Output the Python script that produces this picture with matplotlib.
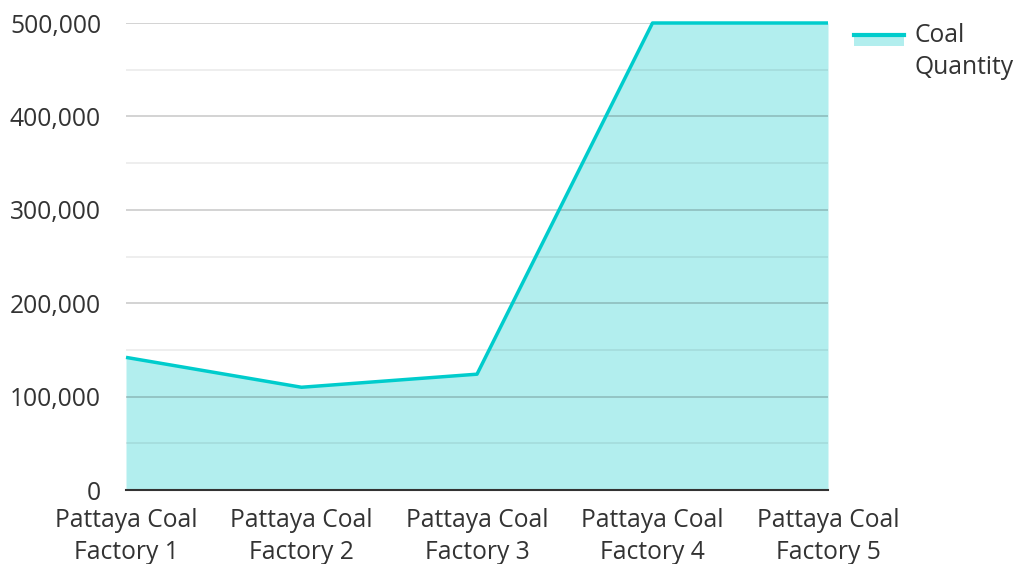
import matplotlib
matplotlib.use('Agg')
import matplotlib.pyplot as plt
from matplotlib.patches import Rectangle
from matplotlib.lines import Line2D
from matplotlib.legend_handler import HandlerBase
from matplotlib.ticker import FuncFormatter, MultipleLocator

plt.rcParams['font.family'] = ['Open Sans', 'DejaVu Sans']

factories = ['Pattaya Coal\nFactory 1', 'Pattaya Coal\nFactory 2', 'Pattaya Coal\nFactory 3',
             'Pattaya Coal\nFactory 4', 'Pattaya Coal\nFactory 5']
coal_quantity = [142000, 110000, 124000, 500000, 500000]

line_color = '#00cccc'
fill_color = '#b2eeee'
text_color = '#333333'
font_size = 17.7


class AreaHandler(HandlerBase):
    # light patch with the line along its top edge, lifted towards the first text line
    def create_artists(self, legend, orig_handle, xdescent, ydescent, width, height, fontsize, trans):
        lift = 7.5
        top = height * 0.95 + lift
        bottom = top - 8.5
        rect = Rectangle((-xdescent, bottom), width, top - bottom,
                         facecolor=fill_color, edgecolor='none', transform=trans)
        line = Line2D([-xdescent, -xdescent + width], [top, top], color=line_color,
                      linewidth=3, transform=trans)
        return [rect, line]


fig = plt.figure(figsize=(10.15, 5.64), dpi=100)
ax = fig.add_axes([126 / 1015, 1 - 490 / 564, (828 - 126) / 1015, (490 - 23) / 564])

x = list(range(len(factories)))
ax.fill_between(x, 0, coal_quantity, color=fill_color, linewidth=0, zorder=1)
area_line, = ax.plot(x, coal_quantity, color=line_color, linewidth=2.5, zorder=3,
                     solid_capstyle='butt', clip_on=False)

ax.set_xlim(0, len(factories) - 1)
ax.set_ylim(0, 500000)
ax.set_xticks(x)
ax.set_xticklabels(factories, linespacing=1.38)
ax.yaxis.set_major_locator(MultipleLocator(100000))
ax.yaxis.set_minor_locator(MultipleLocator(50000))
ax.yaxis.set_major_formatter(FuncFormatter(lambda v, p: f'{v:,.0f}'))

ax.grid(True, axis='y', which='major', color='#000000', alpha=0.2, linewidth=1.2)
ax.grid(True, axis='y', which='minor', color='#000000', alpha=0.08, linewidth=1.2)
ax.set_axisbelow(False)

for side in ['top', 'right', 'left']:
    ax.spines[side].set_visible(False)
ax.spines['bottom'].set_color(text_color)
ax.spines['bottom'].set_linewidth(1.5)
ax.spines['bottom'].set_zorder(4)

ax.tick_params(axis='both', which='both', length=0, labelsize=font_size, labelcolor=text_color)
ax.tick_params(axis='y', pad=18)
ax.tick_params(axis='x', pad=13)

fig.legend([area_line], ['Coal\nQuantity'], loc='upper left', bbox_to_anchor=(0.82, 0.998),
           frameon=False, fontsize=font_size, labelcolor=text_color, handlelength=2.0,
           handletextpad=0.45, handler_map={area_line: AreaHandler()})
for t in fig.legends[0].get_texts():
    t.set_linespacing(1.38)

fig.savefig('out.png', dpi=100, facecolor='white')
plt.close(fig)
